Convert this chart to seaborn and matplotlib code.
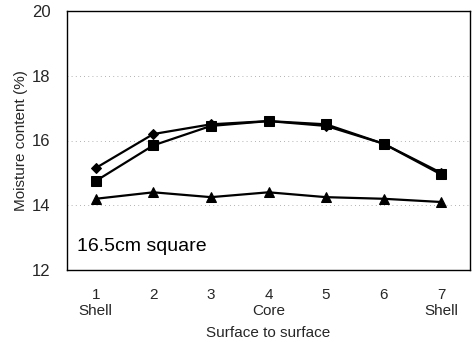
import matplotlib
matplotlib.use("Agg")
import matplotlib.pyplot as plt
import seaborn as sns
import pandas as pd

positions = [1, 2, 3, 4, 5, 6, 7]
tick_labels = ["1\nShell", "2", "3", "4\nCore", "5", "6", "7\nShell"]
diamond = [15.15, 16.2, 16.5, 16.6, 16.45, 15.9, 15.0]
square = [14.75, 15.85, 16.45, 16.6, 16.5, 15.9, 14.95]
triangle = [14.2, 14.4, 14.25, 14.4, 14.25, 14.2, 14.1]

sns.set_theme(style="white")
plt.rcParams['font.family'] = ['Liberation Sans', 'DejaVu Sans']

df = pd.DataFrame({
    "pos": positions * 3,
    "mc": diamond + square + triangle,
    "series": ["A"] * 7 + ["B"] * 7 + ["C"] * 7,
})

fig = plt.figure(figsize=(4.72, 3.42), dpi=100)
ax = fig.add_axes([67/472, 72/342, 403/472, 259/342])

sns.lineplot(data=df, x="pos", y="mc", style="series", hue="series",
             palette=["black", "black", "black"],
             markers={"A": "D", "B": "s", "C": "^"},
             dashes=False, markersize=6, linewidth=1.6,
             markeredgecolor="black", legend=False, ax=ax)
for line, ms in zip(ax.lines, [5, 7, 6.5]):
    line.set_markersize(ms)

ax.set_xlim(0.5, 7.5)
ax.set_ylim(12, 20)
ax.set_yticks([12, 14, 16, 18, 20])
ax.set_xticks(positions)
ax.set_xticklabels(tick_labels, fontsize=11, linespacing=1.15)
ax.tick_params(axis="y", labelsize=12, pad=6)
ax.tick_params(axis="x", pad=7)
for y in [14, 16, 18]:
    ax.axhline(y, color="#999999", linestyle=(0, (1, 4)), linewidth=0.6, zorder=0)
for s in ax.spines.values():
    s.set_color("black")
    s.set_linewidth(1.0)
ax.set_xlabel("Surface to surface", fontsize=11, labelpad=6)
ax.set_ylabel("Moisture content (%)", fontsize=11, labelpad=3)
ax.text(0.68, 12.6, "16.5cm square", fontsize=14, color="black")

fig.savefig("out.png", dpi=100)
